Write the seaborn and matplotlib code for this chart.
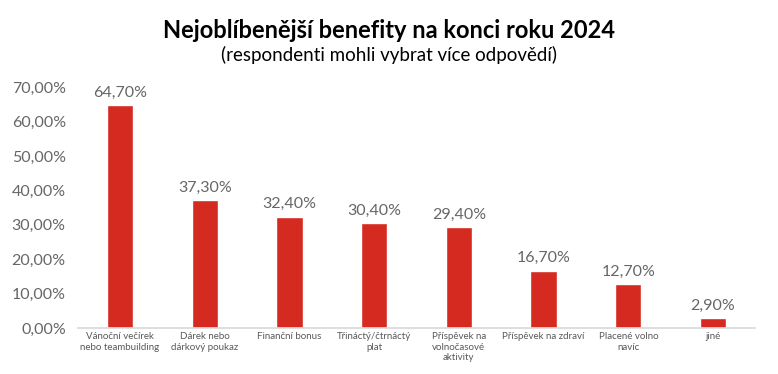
import matplotlib
matplotlib.use("Agg")
import matplotlib.pyplot as plt
import seaborn as sns
import pandas as pd
import numpy as np
from matplotlib.ticker import FuncFormatter, FixedLocator

categories = ["Vánoční večírek\nnebo teambuilding", "Dárek nebo\ndárkový poukaz", "Finanční bonus",
              "Třináctý/čtrnáctý\nplat", "Příspěvek na\nvolnočasové\naktivity", "Příspěvek na zdraví",
              "Placené volno\nnavíc", "jiné"]
values = [64.7, 37.3, 32.4, 30.4, 29.4, 16.7, 12.7, 2.9]

sns.set_theme(style="white")
plt.rcParams['font.family'] = ['Lato', 'DejaVu Sans']

df = pd.DataFrame({"cat": categories, "val": values})
fig = plt.figure(figsize=(7.78, 3.74), dpi=100)
ax = fig.add_axes([0.0997, 0.123, 0.8713, 0.644])
sns.barplot(data=df, x="cat", y="val", color="#D42A20", width=0.31, ax=ax, saturation=1)

ax.set_ylim(0, 70)
ax.set_yticks(range(0, 71, 10))
ax.yaxis.set_major_formatter(FuncFormatter(lambda v, p: f"{v:.2f}%".replace(".", ",")))
ax.tick_params(axis='y', labelsize=11.5, colors="#666666", length=0, pad=8.5)
ax.tick_params(axis='x', which='major', labelsize=7, colors="#595959", length=0, pad=3)
ax.xaxis.set_minor_locator(FixedLocator(np.arange(-0.5, len(categories), 1.0)))
ax.tick_params(axis='x', which='minor', length=3, width=0.8, color="#D9D9D9", direction="out")
for s in ["top", "right", "left"]:
    ax.spines[s].set_visible(False)
ax.spines["bottom"].set_color("#D9D9D9")
ax.set_xlabel("")
ax.set_ylabel("")
ax.set_xlim(-0.5, len(categories) - 0.5)

for i, v in enumerate(values):
    ax.text(i, v + 1.5, f"{v:.2f}%".replace(".", ","), ha="center", va="bottom",
            fontsize=11.5, color="#666666")

fig.text(0.5, 0.918, "Nejoblíbenější benefity na konci roku 2024", ha="center", va="center",
         fontsize=17, fontweight="bold", color="black")
fig.text(0.5, 0.853, "(respondenti mohli vybrat více odpovědí)", ha="center", va="center",
         fontsize=13.5, color="black")

fig.savefig("out.png", dpi=100)
